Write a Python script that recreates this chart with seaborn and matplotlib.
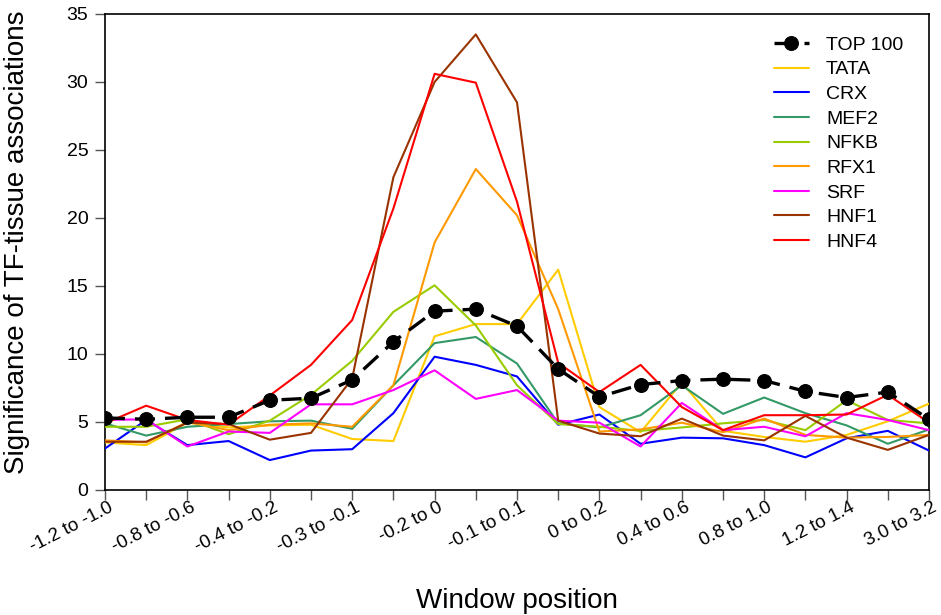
import matplotlib
matplotlib.use("Agg")
import matplotlib.pyplot as plt
import matplotlib.transforms as mtransforms
import seaborn as sns
import pandas as pd
import numpy as np

# Window labels (shown on every other tick) and the 21 window positions
window_labels = ["-1.2 to -1.0", "-0.8 to -0.6", "-0.4 to -0.2", "-0.3 to -0.1",
                 "-0.2 to 0", "-0.1 to 0.1", "0 to 0.2", "0.4 to 0.6",
                 "0.8 to 1.0", "1.2 to 1.4", "3.0 to 3.2"]
positions = list(range(21))

top100 = [5.3, 5.2, 5.35, 5.35, 6.6, 6.75, 8.1, 10.9, 13.15, 13.3, 12.05,
          8.9, 6.85, 7.75, 8.05, 8.15, 8.05, 7.25, 6.8, 7.2, 5.2]
tata = [3.5, 3.3, 4.95, 4.6, 4.75, 4.8, 3.75, 3.6, 11.3, 12.2, 12.2,
        16.2, 6.1, 4.25, 7.9, 4.35, 3.9, 3.55, 4.05, 5.05, 6.35]
crx = [3.05, 5.15, 3.3, 3.6, 2.2, 2.9, 3.0, 5.65, 9.8, 9.2, 8.35,
       4.8, 5.55, 3.4, 3.85, 3.8, 3.3, 2.4, 3.8, 4.35, 2.9]
mef2 = [4.9, 4.0, 4.65, 4.85, 5.05, 5.1, 4.5, 7.7, 10.8, 11.25, 9.3,
        4.9, 4.6, 5.5, 7.7, 5.6, 6.8, 5.65, 4.75, 3.4, 4.45]
nfkb = [4.65, 4.65, 5.2, 4.1, 5.1, 7.0, 9.5, 13.1, 15.05, 12.1, 7.7,
        4.85, 4.65, 4.35, 4.6, 4.9, 5.15, 4.4, 6.6, 5.15, 4.9]
rfx1 = [3.65, 3.5, 5.0, 4.4, 4.8, 4.9, 4.65, 7.7, 18.2, 23.6, 20.2,
        13.3, 4.3, 4.45, 4.95, 4.25, 5.25, 4.05, 3.85, 3.9, 4.05]
srf = [5.15, 5.2, 3.2, 4.3, 4.2, 6.3, 6.3, 7.35, 8.8, 6.7, 7.35,
       5.1, 4.95, 3.2, 6.4, 4.4, 4.65, 3.95, 5.65, 5.15, 4.4]
hnf1 = [3.55, 3.55, 4.95, 4.85, 3.7, 4.2, 8.2, 23.0, 30.0, 33.5, 28.5,
        5.1, 4.15, 3.95, 5.25, 4.0, 3.65, 5.45, 3.85, 2.95, 4.05]
hnf4 = [4.9, 6.2, 5.15, 4.8, 6.95, 9.2, 12.5, 20.7, 30.6, 29.95, 21.2,
        9.35, 7.2, 9.2, 6.1, 4.4, 5.5, 5.5, 5.55, 7.0, 4.95]

factor_names = ["TATA", "CRX", "MEF2", "NFKB", "RFX1", "SRF", "HNF1", "HNF4"]
factor_values = [tata, crx, mef2, nfkb, rfx1, srf, hnf1, hnf4]
factor_colors = ["#FFCC00", "#0000FF", "#339966", "#99CC00",
                 "#FF9900", "#FF00FF", "#993300", "#FF0000"]

sns.set_theme(style="white")
plt.rcParams["font.family"] = ["Liberation Sans", "DejaVu Sans"]
plt.rcParams["text.color"] = "black"
plt.rcParams["axes.labelcolor"] = "black"
plt.rcParams["xtick.color"] = "black"
plt.rcParams["ytick.color"] = "black"

fig = plt.figure(figsize=(9.41, 6.15), dpi=100)
ax = fig.add_axes([105 / 941, 1 - 490 / 615, 824 / 941, 476 / 615])

long = pd.DataFrame({
    "pos": np.tile(positions, len(factor_names)),
    "value": np.concatenate(factor_values),
    "factor": np.repeat(factor_names, len(positions)),
})

# Black dashed TOP 100 line with round markers
sns.lineplot(x=positions, y=top100, ax=ax, color="black", linewidth=2.4,
             linestyle=(0, (6, 3)), marker="o", markersize=10,
             markeredgecolor="black", label="TOP 100", zorder=5)

sns.lineplot(data=long, x="pos", y="value", hue="factor",
             hue_order=factor_names, palette=factor_colors,
             linewidth=1.5, ax=ax, zorder=3)

ax.set_xlim(0, 20)
ax.set_ylim(0, 35)
ax.set_yticks(range(0, 36, 5))
ax.set_xticks(positions)
ax.set_xticklabels([""] * len(positions))
ax.tick_params(axis="y", labelsize=14, pad=5)
ax.tick_params(axis="both", direction="out", length=7, width=1,
               color="#555555", labelcolor="black", bottom=True, left=True)

# Slanted window labels on every other tick, anchored just right of the tick
label_offset = mtransforms.ScaledTranslation(3 / 100, -9 / 100,
                                             fig.dpi_scale_trans)
label_trans = ax.get_xaxis_transform() + label_offset
for k, text in enumerate(window_labels):
    ax.text(positions[2 * k], 0, text, transform=label_trans, rotation=27,
            rotation_mode="anchor", ha="right", va="top", fontsize=13.5,
            color="black", clip_on=False)

for side in ["left", "right", "top", "bottom"]:
    ax.spines[side].set_visible(True)
    ax.spines[side].set_color("black")
    ax.spines[side].set_linewidth(1.2)

ax.set_xlabel("Window position", fontsize=20)
ax.xaxis.set_label_coords(0.5, -0.205)
ax.set_ylabel("Significance of TF-tissue associations", fontsize=20)
ax.yaxis.set_label_coords(-0.091, 0.52)

handles, labels = ax.get_legend_handles_labels()
ax.legend(handles, labels, loc="upper right", bbox_to_anchor=(0.99, 0.99),
          frameon=False, fontsize=14, handlelength=1.8, labelspacing=0.36,
          handletextpad=0.9)

fig.savefig("out.png", dpi=100)
